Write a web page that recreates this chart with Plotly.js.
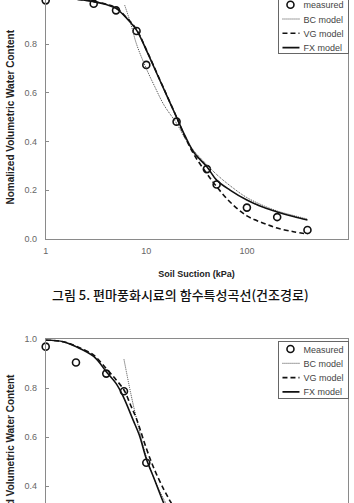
<!DOCTYPE html>
<html>
<head>
<meta charset="utf-8">
<script src="https://cdn.plot.ly/plotly-3.0.1.min.js"></script>
<style>
html,body{margin:0;padding:0;width:354px;height:503px;overflow:hidden;background:#fff;}
#chart{position:absolute;left:0;top:-20px;width:354px;height:620px;}
</style>
</head>
<body>
<div id="chart"></div>
<script>
// ---- Chart A (top): drying path, measured + fitted models ----
const suctionMeasuredA = [1, 3, 5, 8, 10, 20, 40, 50, 100, 200, 400];
const thetaMeasuredA   = [0.98, 0.966, 0.939, 0.854, 0.715, 0.482, 0.287, 0.224, 0.129, 0.090, 0.037];

const suctionBCA = [6.1, 7, 8, 10, 12, 15, 20, 25, 30, 40, 50, 70, 100, 150, 200, 300, 400];
const thetaBCA   = [0.96, 0.885, 0.80, 0.70, 0.63, 0.55, 0.475, 0.405, 0.36, 0.305, 0.265, 0.215, 0.17, 0.135, 0.115, 0.095, 0.082];

const suctionVGA = [1, 2, 3, 4, 5, 6.4, 8, 10, 13.6, 20, 24.5, 30, 40, 50, 68, 100, 146, 200, 290, 400];
const thetaVGA   = [0.995, 0.985, 0.975, 0.964, 0.949, 0.908, 0.86, 0.778, 0.655, 0.50, 0.415, 0.345, 0.268, 0.215, 0.152, 0.095, 0.065, 0.045, 0.03, 0.02];

const suctionFXA = [1, 2, 3, 4, 5, 6.4, 8, 10, 13.6, 20, 24.5, 30, 40, 50, 68, 100, 146, 200, 290, 400];
const thetaFXA   = [0.995, 0.985, 0.975, 0.963, 0.947, 0.906, 0.858, 0.776, 0.653, 0.50, 0.42, 0.353, 0.297, 0.242, 0.201, 0.160, 0.130, 0.111, 0.092, 0.078];

// ---- Chart B (bottom, partly visible) ----
const suctionMeasuredB = [1, 2, 4, 6, 10];
const thetaMeasuredB   = [0.97, 0.905, 0.86, 0.788, 0.496];

const suctionBCB = [6.0, 7, 8, 10, 12, 15, 18];
const thetaBCB   = [0.918, 0.78, 0.675, 0.52, 0.43, 0.345, 0.29];

const suctionVGB = [1, 1.5, 2, 3, 4, 5, 6, 7, 8, 10, 12, 15, 17.4, 20];
const thetaVGB   = [0.997, 0.99, 0.972, 0.935, 0.88, 0.835, 0.793, 0.73, 0.675, 0.555, 0.47, 0.385, 0.337, 0.29];

const suctionFXB = [1, 1.5, 2, 3, 4, 5, 5.9, 7.4, 8.5, 10.1, 12, 14.7, 17];
const thetaFXB   = [0.997, 0.99, 0.97, 0.93, 0.868, 0.82, 0.766, 0.67, 0.61, 0.507, 0.43, 0.337, 0.28];

const xTickVals = [1, 10, 100, 1000];
const xTickText = ['1', '10', '100', '1000'];
const yTickVals = [0, 0.2, 0.4, 0.6, 0.8, 1.0];

const legendNamesA = ['measured', 'BC model', 'VG model', 'FX model'];
const legendNamesB = ['Measured', 'BC model', 'VG model', 'FX model'];
const xTitle = '<b>Soil Suction (kPa)</b>';
const yTitle = '<b>Nomalized Volumetric Water Content</b>';
const caption = '그림 5. 편마풍화시료의 함수특성곡선(건조경로)';

const FONT = 'Arial, "Liberation Sans", sans-serif';
const H = 620;

function mkTraces(xa, ya, leg, names, mx, my, bx, by, vx, vy, fx, fy) {
  return [
    {x: mx, y: my, xaxis: xa, yaxis: ya, legend: leg, name: names[0], type: 'scatter', mode: 'markers',
     marker: {symbol: 'circle-open', size: 7, color: '#111', line: {width: 1.6, color: '#111'}}, cliponaxis: false},
    {x: bx, y: by, xaxis: xa, yaxis: ya, legend: leg, name: names[1], type: 'scatter', mode: 'lines',
     line: {shape: 'spline', color: '#444', width: 1, dash: '1px,1px'}},
    {x: vx, y: vy, xaxis: xa, yaxis: ya, legend: leg, name: names[2], type: 'scatter', mode: 'lines',
     line: {shape: 'spline', color: '#111', width: 1.6, dash: '5px,3px'}},
    {x: fx, y: fy, xaxis: xa, yaxis: ya, legend: leg, name: names[3], type: 'scatter', mode: 'lines',
     line: {shape: 'spline', color: '#111', width: 1.6}}
  ];
}

const data = [].concat(
  mkTraces('x', 'y', 'legend', legendNamesA, suctionMeasuredA, thetaMeasuredA, suctionBCA, thetaBCA, suctionVGA, thetaVGA, suctionFXA, thetaFXA),
  mkTraces('x2', 'y2', 'legend2', legendNamesB, suctionMeasuredB, thetaMeasuredB, suctionBCB, thetaBCB, suctionVGB, thetaVGB, suctionFXB, thetaFXB)
);

function xAxis(anchor) {
  return {
    type: 'log', range: [0, 3], domain: [45.7/354, 347.5/354], anchor: anchor,
    tickvals: xTickVals, ticktext: xTickText, ticks: '', showgrid: false, zeroline: false,
    showline: true, linecolor: '#8a8a8a', linewidth: 1, mirror: true,
    tickfont: {family: FONT, size: 9, color: '#666'}, ticklabelstandoff: 3,
    title: {text: xTitle, font: {family: FONT, size: 9, color: '#222'}, standoff: 15}
  };
}
function yAxis(anchor, top, bottom) {
  return {
    range: [0, 1], domain: [(H - bottom)/H, (H - top)/H], anchor: anchor,
    tickvals: yTickVals, tickformat: '.1f', ticks: 'inside', ticklen: 3, tickcolor: '#8a8a8a',
    showgrid: false, zeroline: false, showline: true, linecolor: '#8a8a8a', linewidth: 1, mirror: true,
    tickfont: {family: FONT, size: 9, color: '#666'}, ticklabelstandoff: 6,
    title: {text: yTitle, font: {family: FONT, size: 10, color: '#222'}, standoff: 7}
  };
}

const legendStyle = {
  xanchor: 'right', yanchor: 'top', x: 347.5/354,
  bgcolor: '#fff', bordercolor: '#666', borderwidth: 1,
  font: {family: FONT, size: 9, color: '#444'}, itemwidth: 30, tracegroupgap: 0
};

const layout = {
  width: 354, height: H,
  margin: {l: 0, r: 0, t: 0, b: 0},
  paper_bgcolor: '#fff', plot_bgcolor: '#fff',
  showlegend: true,
  xaxis: xAxis('y'),
  yaxis: yAxis('x', 15.5, 259),
  xaxis2: xAxis('y2'),
  yaxis2: yAxis('x2', 359.3, 604.3),
  legend: Object.assign({}, legendStyle, {y: (H - 16.7)/H}),
  legend2: Object.assign({}, legendStyle, {y: (H - 361)/H}),
  annotations: [{
    text: caption, xref: 'paper', yref: 'paper', x: 180/354, y: (H - 314)/H,
    xanchor: 'center', yanchor: 'middle', showarrow: false,
    font: {family: '"Noto Sans CJK KR", sans-serif', size: 13, color: '#111', weight: 500}
  }]
};

// Compact the legend boxes to the reference's tighter spacing
function compactLegends(gd) {
  const SP = 14.3, TOP = 8, BOT = 5.6, RIGHT = 347.5;
  gd.querySelectorAll('g.legend, g.legend2').forEach(lg => {
    const traces = lg.querySelectorAll('g.traces');
    let maxW = 0;
    traces.forEach((t, i) => {
      const m = /translate\(\s*([-\d.]+)[ ,]+([-\d.]+)/.exec(t.getAttribute('transform') || '');
      const tx = m ? parseFloat(m[1]) : 1;
      t.setAttribute('transform', 'translate(' + tx + ',' + (TOP + i * SP) + ')');
      const txt = t.querySelector('text');
      if (txt) {
        txt.setAttribute('x', 24);
        txt.querySelectorAll('tspan').forEach(s => { if (s.hasAttribute('x')) s.setAttribute('x', 24); });
        let L = 0;
        try { L = txt.getComputedTextLength(); } catch (e) {}
        if (!L) L = 40;
        maxW = Math.max(maxW, L);
      }
      t.querySelectorAll('g.legendlines path').forEach(p => p.setAttribute('d', 'M3,0h17'));
      t.querySelectorAll('g.legendpoints path.scatterpts').forEach(p => p.setAttribute('transform', 'translate(11,0)'));
    });
    const w = 24 + maxW + 5;
    const h = TOP + (traces.length - 1) * SP + BOT;
    const bg = lg.querySelector('rect.bg');
    if (bg) { bg.setAttribute('width', w); bg.setAttribute('height', h); }
    const m = /translate\(\s*([-\d.]+)[ ,]+([-\d.]+)/.exec(lg.getAttribute('transform') || '');
    if (m) lg.setAttribute('transform', 'translate(' + (RIGHT - w) + ',' + m[2] + ')');
  });
}

Plotly.newPlot('chart', data, layout, {displayModeBar: false, staticPlot: true}).then(compactLegends);
</script>
</body>
</html>
